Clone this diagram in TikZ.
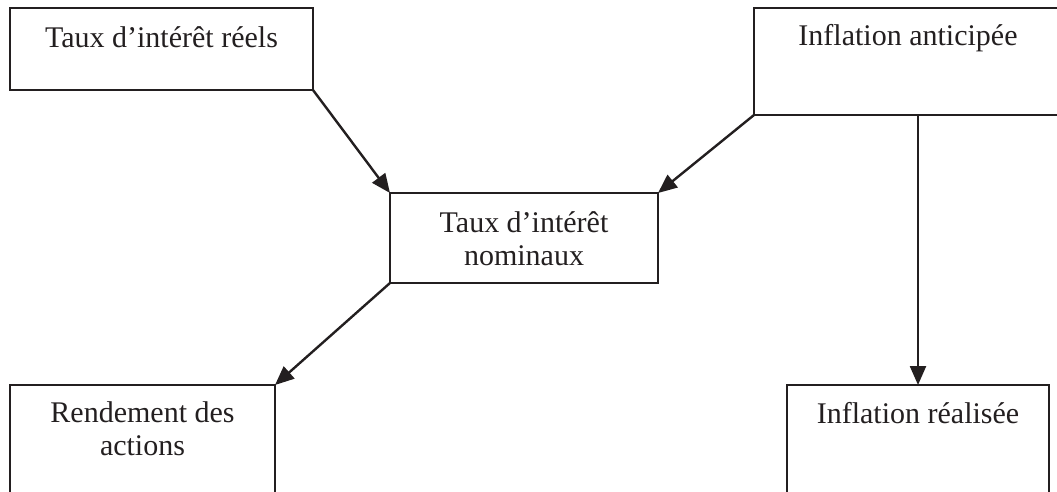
\documentclass[tikz,border=0pt]{standalone}
\usepackage{fontspec}
\setmainfont{Liberation Serif}
\usetikzlibrary{arrows.meta}
\definecolor{ink}{HTML}{231F20}
\begin{document}
\begin{tikzpicture}[x=1pt,y=-1pt,
  boxst/.style={draw=ink,line width=1.6pt,rectangle,inner sep=0pt,outer sep=0pt},
  txt/.style={text=ink,font=\fontsize{30}{33}\selectfont,align=center,inner sep=0pt,anchor=base},
  arr/.style={draw=ink,line width=2.4pt,-{Triangle[length=19pt,width=16pt]}}]
\useasboundingbox (0,0) rectangle (1057,491);
\clip (0,0) rectangle (1057,491);
\node[boxst,minimum width=303pt,minimum height=82pt] (b1) at (161.5,49) {};
\node[boxst,minimum width=308pt,minimum height=107pt] (b2) at (908,61.5) {};
\node[boxst,minimum width=268pt,minimum height=90pt] (b3) at (524,238) {};
\node[boxst,minimum width=265pt,minimum height=130pt] (b4) at (142.5,450) {};
\node[boxst,minimum width=262pt,minimum height=130pt] (b5) at (918,450) {};
\node[txt] (t1) at ([yshift=-39pt]b1.north) {Taux d’intérêt réels};
\node[txt] (t2) at ([yshift=-37pt]b2.north) {Inflation anticipée};
\node[txt] (t3) at ([yshift=-72pt]b3.north) {Taux d’intérêt\\nominaux};
\node[txt] (t4) at ([yshift=-70pt]b4.north) {Rendement des\\actions};
\node[txt] (t5) at ([yshift=-38pt]b5.north) {Inflation réalisée};
\draw[arr] (b1.south east) -- (b3.north west);
\draw[arr] (b2.south west) -- (b3.north east);
\draw[arr] (b3.south west) -- (b4.north east);
\draw[arr] (b5.north |- b2.south) -- (b5.north);
\end{tikzpicture}
\end{document}
